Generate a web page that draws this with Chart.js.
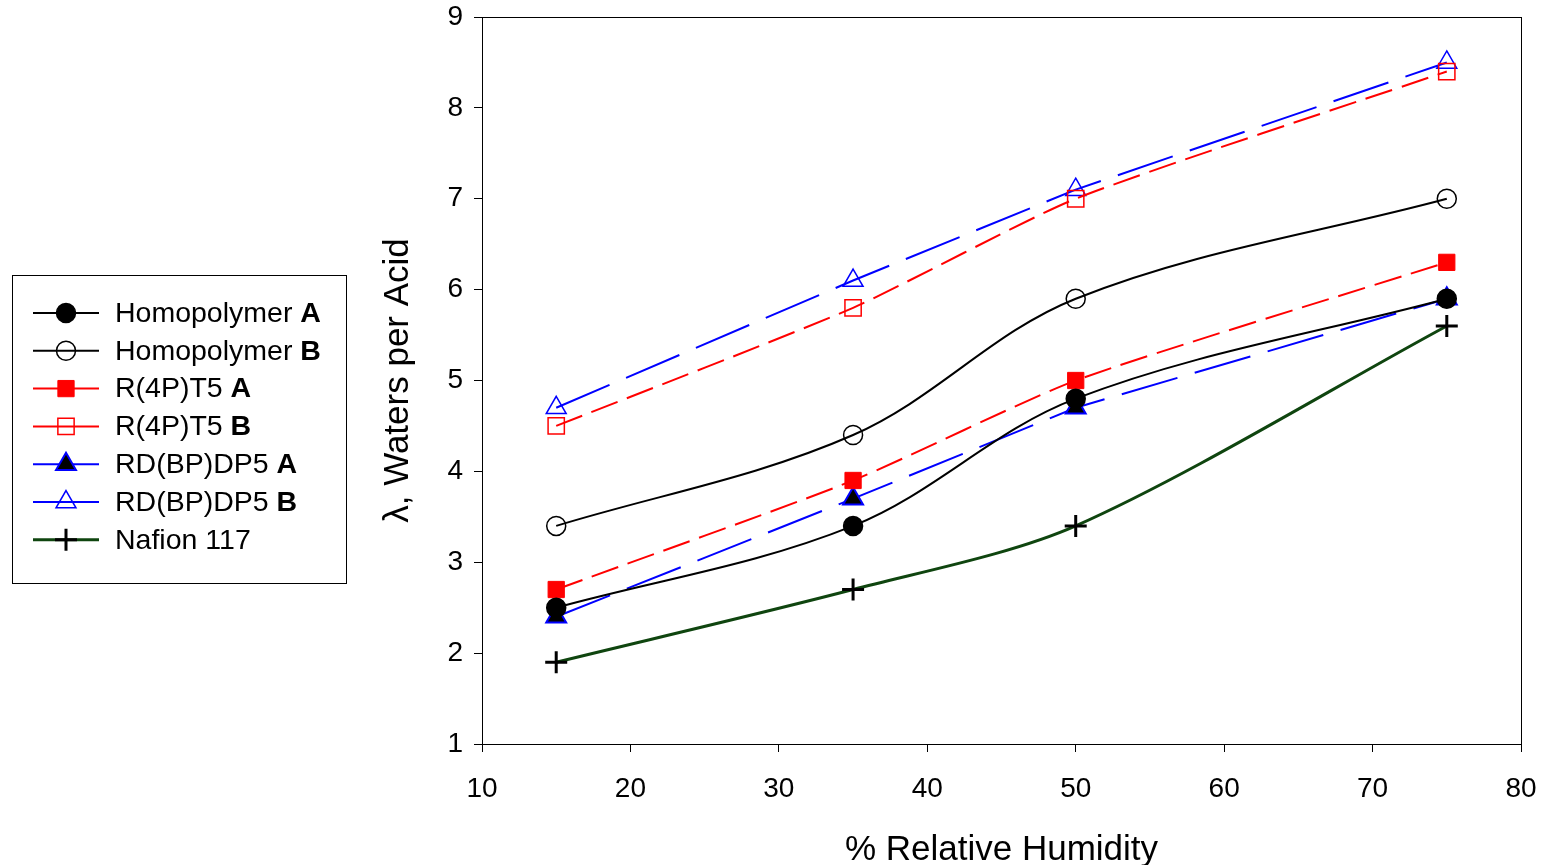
<!DOCTYPE html>
<html>
<head>
<meta charset="utf-8">
<script src="https://cdn.jsdelivr.net/npm/chart.js@4/dist/chart.umd.min.js"></script>
<style>
  html, body { margin: 0; padding: 0; background: #fff; }
  #wrap { width: 1541px; height: 865px; }
</style>
</head>
<body>
<div id="wrap"><canvas id="chart" width="1541" height="865"></canvas></div>
<script>
// values
const humidity = [15, 35, 50, 75];
const homoA = [2.5, 3.4, 4.8, 5.9];
const homoB = [3.4, 4.4, 5.9, 7.0];
const r4pA = [2.7, 3.9, 5.0, 6.3];
const r4pB = [4.5, 5.8, 7.0, 8.4];
const rdbpA = [2.4, 3.7, 4.7, 5.9];
const rdbpB = [4.7, 6.1, 7.1, 8.5];
const nafion = [1.9, 2.7, 3.4, 5.6];
const seriesNames = [['Homopolymer ', 'A'], ['Homopolymer ', 'B'], ['R(4P)T5 ', 'A'], ['R(4P)T5 ', 'B'],
                     ['RD(BP)DP5 ', 'A'], ['RD(BP)DP5 ', 'B'], ['Nafion 117', '']];
const xTicks = [10, 20, 30, 40, 50, 60, 70, 80];
const yTicks = [1, 2, 3, 4, 5, 6, 7, 8, 9];

const FONT = "'Liberation Sans', Arial, sans-serif";
const NONE = 'rgba(0,0,0,0)';

function pts(vals) {
    return humidity.map((h, i) => ({x: h, y: vals[i]}));
}

function series(name, vals, line, dash, lw, tension, style, fill, border, radius, bw) {
    return {
        label: name.join(''),
        data: pts(vals),
        borderColor: line,
        borderWidth: lw,
        borderDash: dash,
        tension: tension,
        pointStyle: style,
        pointRadius: radius,
        pointBackgroundColor: fill,
        pointBorderColor: border,
        pointBorderWidth: bw,
        fill: false
    };
}

const datasets = [
    series(seriesNames[0], homoA, '#000', [], 2, 0.35, 'circle', '#000', '#000', 9.5, 1.5),
    series(seriesNames[1], homoB, '#000', [], 2, 0.35, 'circle', NONE, '#000', 9.5, 1.5),
    series(seriesNames[2], r4pA, '#ff0000', [28, 10], 2, 0.2, 'rect', '#ff0000', '#ff0000', 11.5, 1),
    series(seriesNames[3], r4pB, '#ff0000', [28, 10], 2, 0.2, 'rect', NONE, '#ff0000', 11.5, 1.5),
    series(seriesNames[4], rdbpA, '#0000ff', [58, 18], 2, 0, 'triangle', '#000', '#0000ff', 11.5, 2),
    series(seriesNames[5], rdbpB, '#0000ff', [58, 18], 2, 0, 'triangle', NONE, '#0000ff', 11.5, 1.5),
    series(seriesNames[6], nafion, '#0f450f', [], 3, 0.3, 'cross', '#000', '#000', 11, 3)
];

// box around the plot area
const frame = {
    id: 'frame',
    afterDraw(chart) {
        const a = chart.chartArea, ctx = chart.ctx;
        ctx.save();
        ctx.strokeStyle = '#000';
        ctx.lineWidth = 1;
        ctx.strokeRect(a.left + 0.5, a.top + 0.5, a.right - a.left, a.bottom - a.top);
        ctx.restore();
    }
};

// boxed legend with bold A / B
const boxLegend = {
    id: 'boxLegend',
    afterDraw(chart) {
        const ctx = chart.ctx;
        ctx.save();
        ctx.strokeStyle = '#000';
        ctx.lineWidth = 1;
        ctx.strokeRect(12.5, 275.5, 334, 308);
        chart.data.datasets.forEach((ds, i) => {
            const y = 313 + i * 37.8;
            ctx.save();
            ctx.strokeStyle = ds.borderColor;
            ctx.lineWidth = ds.borderWidth;
            ctx.beginPath();
            ctx.moveTo(33, y);
            ctx.lineTo(99, y);
            ctx.stroke();
            ctx.fillStyle = ds.pointBackgroundColor;
            ctx.strokeStyle = ds.pointBorderColor;
            ctx.lineWidth = ds.pointBorderWidth;
            Chart.helpers.drawPoint(ctx, {
                pointStyle: ds.pointStyle, radius: ds.pointRadius,
                rotation: 0, borderWidth: ds.pointBorderWidth
            }, 66, y);
            ctx.restore();
            const parts = seriesNames[i];
            ctx.fillStyle = '#000';
            ctx.textBaseline = 'middle';
            ctx.font = '28.5px ' + FONT;
            ctx.fillText(parts[0], 115, y + 1);
            const w = ctx.measureText(parts[0]).width;
            ctx.font = 'bold 28.5px ' + FONT;
            ctx.fillText(parts[1], 115 + w, y + 1);
        });
        ctx.restore();
    }
};

new Chart(document.getElementById('chart').getContext('2d'), {
    type: 'line',
    data: {datasets: datasets},
    options: {
        responsive: false,
        animation: false,
        layout: {padding: {left: 373, right: 20, top: 17, bottom: 0}},
        plugins: {legend: {display: false}, tooltip: {enabled: false}},
        scales: {
            x: {
                type: 'linear',
                min: 10, max: 80,
                afterBuildTicks: s => { s.ticks = xTicks.map(v => ({value: v})); },
                afterFit: s => { s.height = 121; s.paddingLeft = 0; s.paddingRight = 0; },
                grid: {drawOnChartArea: false, drawTicks: true, tickLength: 8, color: '#000'},
                border: {color: '#000', width: 1},
                ticks: {color: '#000', padding: 20, maxRotation: 0, font: {family: FONT, size: 28}},
                title: {display: true, text: '% Relative Humidity', color: '#000',
                        padding: {top: 0, bottom: -6}, font: {family: FONT, size: 35}}
            },
            y: {
                min: 1, max: 9,
                afterBuildTicks: s => { s.ticks = yTicks.map(v => ({value: v})); },
                afterFit: s => { s.width = 109; s.paddingTop = 0; s.paddingBottom = 0; },
                grid: {drawOnChartArea: false, drawTicks: true, tickLength: 8, color: '#000'},
                border: {color: '#000', width: 1},
                ticks: {color: '#000', padding: 11, font: {family: FONT, size: 28}},
                title: {display: true, text: 'λ, Waters per Acid', color: '#000',
                        padding: {top: 4, bottom: 0}, font: {family: FONT, size: 35}}
            }
        }
    },
    plugins: [frame, boxLegend]
});
</script>
</body>
</html>
